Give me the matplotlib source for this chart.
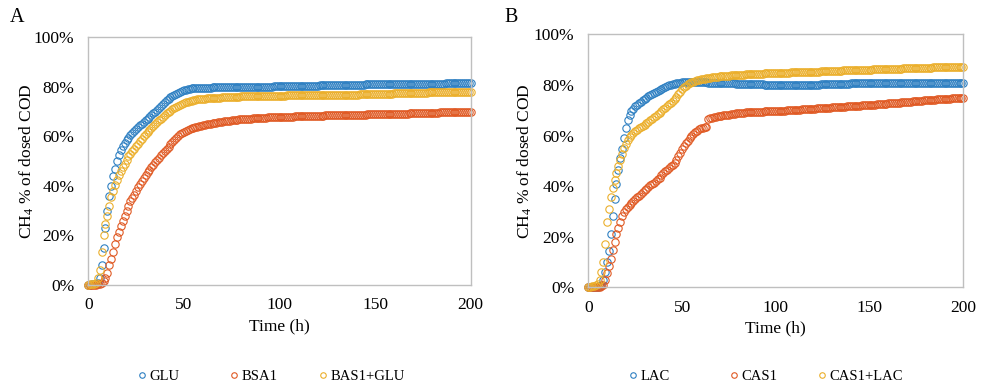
import matplotlib
matplotlib.use("Agg")
import matplotlib.pyplot as plt
from matplotlib.ticker import FuncFormatter

plt.rcParams['font.family'] = ['Liberation Serif', 'DejaVu Serif']
plt.rcParams['mathtext.fontset'] = 'custom'
plt.rcParams['mathtext.rm'] = 'Liberation Serif'
plt.rcParams['mathtext.it'] = 'Liberation Serif'

# time grid (h): hourly readings 0..200
time_h = list(range(0, 201))

# ---- Panel A (% of dosed COD) ----
glu = [0, 0.1, 0.2, 0.3, 0.5, 1.0, 3.0, 8.0, 15.0, 23.0, 30.0,
       36.0, 40.0, 44.0, 47.0, 50.0, 52.5, 54.5, 56.0, 57.5, 58.5,
       59.5, 60.5, 61.5, 62.3, 63.0, 63.7, 64.4, 65.1, 65.8, 66.5,
       67.2, 67.9, 68.6, 69.3, 70.0, 70.8, 71.6, 72.4, 73.2, 74.0,
       74.6, 75.2, 75.8, 76.3, 76.8, 77.2, 77.6, 78.0, 78.3, 78.6,
       78.9, 79.1, 79.3, 79.4, 79.5, 79.6, 79.6, 79.7, 79.7, 79.7,
       79.7, 79.7, 79.7, 79.7, 79.8, 79.8, 79.8, 79.8, 79.8, 79.8,
       79.8, 79.8, 79.9, 79.9, 79.9, 79.9, 79.9, 79.9, 79.9, 79.9,
       80.0, 80.0, 80.0, 80.0, 80.0, 80.0, 80.0, 80.0, 80.1, 80.1,
       80.1, 80.1, 80.1, 80.1, 80.1, 80.1, 80.2, 80.2, 80.2, 80.2,
       80.2, 80.2, 80.3, 80.3, 80.3, 80.3, 80.3, 80.3, 80.4, 80.4,
       80.4, 80.4, 80.4, 80.4, 80.5, 80.5, 80.5, 80.5, 80.5, 80.5,
       80.6, 80.6, 80.6, 80.6, 80.6, 80.6, 80.7, 80.7, 80.7, 80.7,
       80.7, 80.7, 80.8, 80.8, 80.8, 80.8, 80.8, 80.8, 80.9, 80.9,
       80.9, 80.9, 80.9, 80.9, 81.0, 81.0, 81.0, 81.0, 81.0, 81.0,
       81.0, 81.0, 81.1, 81.1, 81.1, 81.1, 81.1, 81.1, 81.1, 81.1,
       81.1, 81.1, 81.2, 81.2, 81.2, 81.2, 81.2, 81.2, 81.2, 81.2,
       81.2, 81.2, 81.3, 81.3, 81.3, 81.3, 81.3, 81.3, 81.3, 81.3,
       81.3, 81.3, 81.3, 81.3, 81.3, 81.3, 81.4, 81.4, 81.4, 81.4,
       81.4, 81.4, 81.4, 81.4, 81.4, 81.4, 81.4, 81.4, 81.4, 81.4]

bsa1 = [0, 0, 0, 0, 0.1, 0.2, 0.3, 0.6, 1.5, 3.0, 5.0,
        8.0, 10.5, 13.5, 16.5, 19.5, 21.5, 24.0, 26.0, 28.0, 30.0,
        32.0, 33.8, 35.0, 36.5, 38.0, 39.5, 40.8, 42.0, 43.0, 44.4,
        45.5, 46.6, 47.6, 48.6, 49.6, 50.5, 51.4, 52.3, 53.2, 54.0,
        55.0, 55.9, 56.8, 57.7, 58.6, 59.5, 60.2, 60.8, 61.3, 61.8,
        62.2, 62.6, 62.9, 63.2, 63.5, 63.7, 63.9, 64.1, 64.3, 64.5,
        64.6, 64.8, 64.9, 65.1, 65.2, 65.4, 65.5, 65.7, 65.8, 66.0,
        66.1, 66.2, 66.3, 66.4, 66.5, 66.6, 66.7, 66.8, 66.9, 67.0,
        67.0, 67.1, 67.1, 67.2, 67.2, 67.3, 67.3, 67.4, 67.4, 67.5,
        67.5, 67.6, 67.6, 67.7, 67.7, 67.8, 67.8, 67.8, 67.8, 67.9,
        67.9, 67.9, 67.9, 68.0, 68.0, 68.0, 68.0, 68.1, 68.1, 68.1,
        68.1, 68.2, 68.2, 68.2, 68.2, 68.3, 68.3, 68.3, 68.3, 68.4,
        68.4, 68.4, 68.4, 68.5, 68.5, 68.5, 68.5, 68.6, 68.6, 68.6,
        68.6, 68.6, 68.6, 68.7, 68.7, 68.7, 68.7, 68.7, 68.7, 68.8,
        68.8, 68.8, 68.8, 68.8, 68.8, 68.9, 68.9, 68.9, 68.9, 68.9,
        68.9, 69.0, 69.0, 69.0, 69.0, 69.0, 69.0, 69.1, 69.1, 69.1,
        69.1, 69.1, 69.1, 69.2, 69.2, 69.2, 69.2, 69.3, 69.3, 69.3,
        69.3, 69.4, 69.4, 69.4, 69.4, 69.5, 69.5, 69.5, 69.5, 69.6,
        69.6, 69.6, 69.6, 69.7, 69.7, 69.7, 69.7, 69.8, 69.8, 69.8,
        69.8, 69.8, 69.8, 69.9, 69.9, 69.9, 69.9, 70.0, 70.0, 70.0]

bas1_glu = [0, 0.2, 0.3, 0.5, 1.0, 3.0, 6.0, 13.5, 20.0, 24.5, 28.0,
            32.0, 35.5, 38.0, 40.5, 42.5, 44.5, 46.0, 47.5, 49.0, 50.5,
            52.0, 53.0, 54.0, 55.0, 56.0, 57.0, 58.0, 59.0, 60.0, 61.0,
            61.8, 62.6, 63.4, 64.2, 65.0, 65.8, 66.5, 67.2, 68.0, 68.7,
            69.3, 69.9, 70.4, 70.9, 71.4, 71.9, 72.3, 72.7, 73.1, 73.4,
            73.7, 74.0, 74.2, 74.4, 74.6, 74.8, 74.9, 75.0, 75.1, 75.2,
            75.2, 75.3, 75.3, 75.4, 75.4, 75.5, 75.5, 75.6, 75.6, 75.7,
            75.7, 75.8, 75.8, 75.8, 75.8, 75.9, 75.9, 76.0, 76.0, 76.1,
            76.1, 76.1, 76.1, 76.2, 76.2, 76.2, 76.2, 76.2, 76.2, 76.3,
            76.3, 76.3, 76.3, 76.3, 76.3, 76.4, 76.4, 76.4, 76.4, 76.4,
            76.4, 76.4, 76.4, 76.5, 76.5, 76.5, 76.5, 76.5, 76.5, 76.5,
            76.5, 76.6, 76.6, 76.6, 76.6, 76.6, 76.6, 76.6, 76.6, 76.6,
            76.6, 76.7, 76.7, 76.7, 76.7, 76.7, 76.7, 76.7, 76.7, 76.8,
            76.8, 76.8, 76.8, 76.8, 76.8, 76.9, 76.9, 76.9, 76.9, 76.9,
            76.9, 77.0, 77.0, 77.0, 77.0, 77.1, 77.1, 77.1, 77.1, 77.2,
            77.2, 77.2, 77.2, 77.3, 77.3, 77.3, 77.3, 77.3, 77.3, 77.4,
            77.4, 77.4, 77.4, 77.5, 77.5, 77.5, 77.5, 77.6, 77.6, 77.6,
            77.6, 77.6, 77.6, 77.7, 77.7, 77.7, 77.7, 77.8, 77.8, 77.8,
            77.8, 77.8, 77.8, 77.9, 77.9, 77.9, 77.9, 77.9, 77.9, 78.0,
            78.0, 78.0, 78.0, 78.0, 78.0, 78.0, 78.0, 78.0, 78.0, 78.0]

# ---- Panel B ----
lac = [0, 0, 0.1, 0.1, 0.2, 0.3, 0.5, 1.0, 3.0, 6.0, 10.0,
       14.5, 21.0, 28.0, 35.0, 41.0, 46.4, 51.0, 54.5, 59.0, 63.0,
       66.0, 68.3, 69.5, 70.6, 71.5, 72.2, 72.8, 73.4, 74.0, 74.5,
       75.0, 75.5, 76.0, 76.4, 76.9, 77.3, 77.7, 78.1, 78.5, 78.9,
       79.2, 79.5, 79.8, 80.0, 80.2, 80.4, 80.6, 80.8, 80.9, 81.0,
       81.1, 81.2, 81.2, 81.3, 81.3, 81.3, 81.2, 81.2, 81.1, 81.0,
       81.0, 81.0, 81.0, 80.9, 80.9, 80.9, 80.9, 80.8, 80.8, 80.8,
       80.8, 80.7, 80.7, 80.7, 80.7, 80.6, 80.6, 80.6, 80.5, 80.5,
       80.5, 80.4, 80.4, 80.4, 80.4, 80.3, 80.3, 80.3, 80.3, 80.2,
       80.2, 80.2, 80.2, 80.1, 80.1, 80.1, 80.1, 80.1, 80.1, 80.0,
       80.0, 80.0, 80.0, 80.0, 80.0, 80.0, 80.0, 80.0, 80.0, 80.0,
       80.0, 80.0, 80.0, 80.0, 80.0, 80.0, 80.0, 80.1, 80.1, 80.1,
       80.1, 80.1, 80.1, 80.2, 80.2, 80.2, 80.2, 80.3, 80.3, 80.3,
       80.3, 80.4, 80.4, 80.4, 80.4, 80.5, 80.5, 80.5, 80.5, 80.6,
       80.6, 80.6, 80.6, 80.7, 80.7, 80.7, 80.7, 80.8, 80.8, 80.8,
       80.8, 80.8, 80.8, 80.8, 80.8, 80.8, 80.8, 80.8, 80.9, 80.9,
       80.9, 80.9, 80.9, 80.9, 80.9, 80.9, 80.9, 80.9, 80.9, 80.9,
       80.9, 80.9, 80.9, 80.9, 80.8, 80.8, 80.8, 80.8, 80.8, 80.8,
       80.8, 80.8, 80.8, 80.8, 80.8, 80.7, 80.7, 80.7, 80.7, 80.7,
       80.7, 80.7, 80.7, 80.7, 80.7, 80.6, 80.6, 80.6, 80.6, 80.6]

cas1 = [0, 0, 0, 0.1, 0.1, 0.2, 0.3, 0.6, 1.0, 3.0, 5.5,
        8.3, 11.0, 14.7, 18.0, 21.0, 23.5, 25.8, 28.0, 29.7, 30.8,
        31.7, 32.5, 33.3, 34.0, 34.8, 35.5, 36.2, 36.9, 37.6, 38.3,
        39.0, 39.7, 40.4, 40.9, 41.4, 42.0, 42.7, 43.4, 44.2, 45.0,
        45.8, 46.5, 47.2, 47.8, 48.5, 49.3, 50.5, 51.8, 53.2, 54.5,
        55.7, 56.9, 58.0, 58.9, 59.8, 60.6, 61.3, 61.9, 62.4, 62.8,
        63.1, 63.3, 63.5, 66.6, 66.8, 67.0, 67.2, 67.4, 67.6, 67.8,
        67.9, 68.0, 68.1, 68.2, 68.3, 68.4, 68.5, 68.6, 68.7, 68.8,
        68.9, 69.0, 69.0, 69.1, 69.1, 69.2, 69.2, 69.3, 69.3, 69.4,
        69.4, 69.4, 69.4, 69.5, 69.5, 69.5, 69.5, 69.6, 69.6, 69.6,
        69.6, 69.7, 69.7, 69.8, 69.8, 69.9, 69.9, 70.0, 70.0, 70.1,
        70.1, 70.2, 70.2, 70.3, 70.3, 70.4, 70.4, 70.5, 70.5, 70.6,
        70.6, 70.7, 70.7, 70.8, 70.8, 70.9, 70.9, 71.0, 71.0, 71.1,
        71.1, 71.2, 71.2, 71.3, 71.3, 71.4, 71.4, 71.5, 71.5, 71.6,
        71.6, 71.7, 71.7, 71.8, 71.8, 71.9, 71.9, 72.0, 72.0, 72.1,
        72.1, 72.2, 72.2, 72.3, 72.3, 72.4, 72.4, 72.5, 72.6, 72.7,
        72.7, 72.8, 72.8, 72.9, 72.9, 73.0, 73.1, 73.2, 73.2, 73.3,
        73.3, 73.4, 73.5, 73.6, 73.6, 73.7, 73.7, 73.8, 73.9, 74.0,
        74.0, 74.1, 74.1, 74.2, 74.2, 74.3, 74.3, 74.4, 74.4, 74.5,
        74.5, 74.6, 74.6, 74.7, 74.7, 74.8, 74.8, 74.9, 74.9, 75.0]

cas1_lac = [0, 0.2, 0.4, 0.6, 0.8, 1.5, 3.0, 6.0, 10.0, 17.0, 26.0,
            31.0, 35.5, 39.4, 42.5, 45.3, 47.8, 50.3, 52.8, 55.0, 56.8,
            58.3, 59.4, 60.3, 61.0, 61.7, 62.3, 62.8, 63.3, 63.8, 64.3,
            64.8, 65.4, 66.0, 66.6, 67.2, 67.8, 68.4, 69.0, 69.7, 70.3,
            71.0, 71.6, 72.3, 73.0, 73.7, 74.5, 75.3, 76.3, 77.3, 78.2,
            79.0, 79.7, 80.2, 80.6, 81.0, 81.3, 81.6, 81.8, 82.0, 82.2,
            82.3, 82.5, 82.6, 82.8, 82.9, 83.0, 83.1, 83.2, 83.3, 83.4,
            83.4, 83.5, 83.5, 83.6, 83.7, 83.8, 83.8, 83.9, 83.9, 84.0,
            84.0, 84.1, 84.1, 84.2, 84.2, 84.3, 84.3, 84.4, 84.4, 84.5,
            84.5, 84.5, 84.5, 84.6, 84.6, 84.7, 84.7, 84.7, 84.7, 84.8,
            84.8, 84.8, 84.8, 84.9, 84.9, 84.9, 84.9, 85.0, 85.0, 85.0,
            85.0, 85.1, 85.1, 85.1, 85.1, 85.2, 85.2, 85.2, 85.2, 85.3,
            85.3, 85.3, 85.3, 85.4, 85.4, 85.4, 85.4, 85.5, 85.5, 85.5,
            85.5, 85.6, 85.6, 85.6, 85.6, 85.7, 85.7, 85.7, 85.7, 85.8,
            85.8, 85.8, 85.8, 85.9, 85.9, 85.9, 85.9, 86.0, 86.0, 86.0,
            86.0, 86.1, 86.1, 86.1, 86.1, 86.2, 86.2, 86.2, 86.2, 86.3,
            86.3, 86.3, 86.3, 86.4, 86.4, 86.4, 86.4, 86.5, 86.5, 86.5,
            86.5, 86.6, 86.6, 86.6, 86.6, 86.7, 86.7, 86.7, 86.7, 86.8,
            86.8, 86.8, 86.8, 86.9, 86.9, 86.9, 86.9, 87.0, 87.0, 87.0,
            87.0, 87.1, 87.1, 87.1, 87.1, 87.2, 87.2, 87.2, 87.2, 87.2]

labels_a = ["GLU", "BSA1", "BAS1+GLU"]
labels_b = ["LAC", "CAS1", "CAS1+LAC"]
colors = ["#2F80C2", "#E05A24", "#EBAF2C"]
x_ticks = [0, 50, 100, 150, 200]
y_ticks = [0, 20, 40, 60, 80, 100]

W, H = 984, 386
fig = plt.figure(figsize=(W / 100, H / 100), dpi=100)
ax_a = fig.add_axes([0.0897, 0.2617, 0.3887, 0.6417])
ax_b = fig.add_axes([0.5979, 0.2557, 0.3811, 0.6554])

pct = FuncFormatter(lambda v, p: f"{v:.0f}%")


def draw(ax, series, labels, leg_px, ylab_x, xlab_y):
    handles = []
    for s, lab, c in zip(series, labels, colors):
        h, = ax.plot(time_h, s, linestyle='none', marker='o', markersize=5.3,
                     markerfacecolor='none', markeredgecolor=c,
                     markeredgewidth=0.8, label=lab, clip_on=False)
        handles.append(h)
    ax.set_xlim(0, 200)
    ax.set_ylim(0, 100)
    ax.set_xticks(x_ticks)
    ax.set_yticks(y_ticks)
    ax.yaxis.set_major_formatter(pct)
    ax.tick_params(length=0, labelsize=12.5)
    ax.tick_params(axis='x', pad=9)
    ax.tick_params(axis='y', pad=10)
    for sp in ax.spines.values():
        sp.set_color('#BFBFBF')
        sp.set_linewidth(1.0)
    ax.set_xlabel("Time (h)", fontsize=12.5)
    ax.set_ylabel("CH$_4$ % of dosed COD", fontsize=12.5)
    ax.yaxis.set_label_coords(ylab_x, 0.5)
    ax.xaxis.set_label_coords(0.5, xlab_y)
    # one legend entry per series, placed like the original legend row
    for h, px in zip(handles, leg_px):
        fig.legend(handles=[h], loc='center left',
                   bbox_to_anchor=((px - 3) / W, 1 - 376 / H),
                   frameon=False, fontsize=10.5, handlelength=0.4,
                   handletextpad=0.3, borderpad=0, borderaxespad=0,
                   markerscale=0.75)


draw(ax_a, [glu, bsa1, bas1_glu], labels_a, [142, 234, 323], -0.137, -0.135)
draw(ax_b, [lac, cas1, cas1_lac], labels_b, [633, 734, 822], -0.144, -0.132)

fig.text(0.010, 0.955, "A", fontsize=14.5, va='center', ha='left')
fig.text(0.513, 0.955, "B", fontsize=14.5, va='center', ha='left')

fig.savefig("out.png", dpi=100)
